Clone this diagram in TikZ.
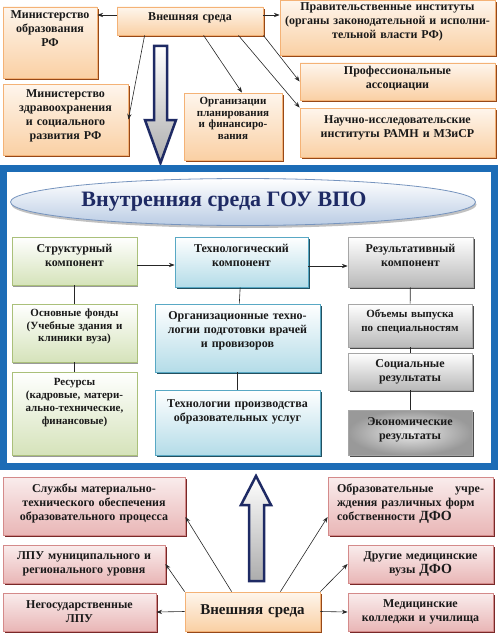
\documentclass[tikz,border=0pt]{standalone}
\usepackage{fontspec}
\setmainfont{Liberation Serif}
\usetikzlibrary{shapes.geometric, arrows.meta, shadows}
\definecolor{frameblue}{RGB}{28,108,182}
\definecolor{peach}{RGB}{250,208,164}
\definecolor{peachline}{RGB}{244,178,118}
\definecolor{brownshade}{RGB}{150,72,24}
\definecolor{rose}{RGB}{233,182,182}
\definecolor{roseline}{RGB}{212,138,138}
\definecolor{redshade}{RGB}{120,40,40}
\definecolor{leaf}{RGB}{213,227,186}
\definecolor{leafline}{RGB}{170,192,122}
\definecolor{aqua}{RGB}{180,220,232}
\definecolor{aqualine}{RGB}{88,168,196}
\definecolor{tealshade}{RGB}{35,80,95}
\definecolor{ellblue}{RGB}{186,204,228}
\definecolor{ellline}{RGB}{118,148,190}
\definecolor{navy}{RGB}{30,42,100}
\tikzset{
  base/.style={
    rectangle, align=center, inner sep=1pt, text=black!90,
    font=\bfseries\fontsize{12}{14}\selectfont
  },
  outer/.style={
    base, draw=peachline, line width=0.8pt, top color=peach!20, bottom color=peach,
    drop shadow={shadow xshift=1.5pt,shadow yshift=-2pt,fill=brownshade,opacity=1}
  },
  partner/.style={
    base, draw=roseline, line width=0.8pt, top color=rose!25, bottom color=rose,
    drop shadow={shadow xshift=1.5pt,shadow yshift=-2pt,fill=redshade,opacity=1}
  },
  structbox/.style={
    base, draw=leafline, line width=0.8pt, top color=white, bottom color=leaf,
    drop shadow={shadow xshift=1pt,shadow yshift=-1.5pt,fill=gray!80,opacity=1}
  },
  techbox/.style={
    base, draw=aqualine, line width=0.8pt, top color=white, bottom color=aqua,
    drop shadow={shadow xshift=1.5pt,shadow yshift=-2pt,fill=tealshade,opacity=1}
  },
  resbox/.style={
    base, draw=gray!70, line width=0.8pt, top color=white, bottom color=gray!55,
    drop shadow={shadow xshift=1.5pt,shadow yshift=-2pt,fill=black!70,opacity=1}
  },
  titleell/.style={
    ellipse, minimum width=465pt, minimum height=47pt, inner sep=0pt,
    top color=white, bottom color=ellblue, draw=ellline, line width=0.8pt,
    text=navy, font=\bfseries\fontsize{22}{24}\selectfont,
    drop shadow={shadow xshift=1pt,shadow yshift=-2.5pt,fill=gray!60,opacity=0.8}
  },
  bigarrow/.style={
    draw=navy, line width=2.5pt, line join=miter, top color=white, bottom color=gray!65
  },
  arrow/.style={->, >=Stealth, line width=0.6pt, black!85},
  link/.style={line width=0.6pt, black!85}
}

\begin{document}
\begin{tikzpicture}[x=1pt, y=-1pt]
\useasboundingbox (0,0) rectangle (498,642);

% top: outer environment
\node[outer, minimum width=146pt, minimum height=28pt, text width=140pt, text depth=9pt] (extTop) at (190,21) {Внешняя среда};
\node[outer, minimum width=94pt, minimum height=71pt, text width=88pt, text depth=55pt] (minObr) at (50,42.5) {Министерство\\образования\\РФ};
\node[outer, minimum width=125pt, minimum height=71pt, text width=118pt, text depth=51pt] (minZdrav) at (65.5,119.5) {Министерство\\здравоохранения\\и социального\\развития РФ};
\node[outer, minimum width=98pt, minimum height=67pt, text width=92pt, text depth=51pt, font=\bfseries\fontsize{11}{11.5}\selectfont] (orgPlan) at (233,126.5) {Организации\\планирования\\и финансиро-\\вания};
\node[outer, minimum width=215pt, minimum height=55pt, text width=208pt, text depth=41pt] (pravInst) at (387.5,27.5) {Правительственные институты\\(органы законодательной и исполни-\\тельной власти РФ)};
\node[outer, minimum width=195pt, minimum height=37pt, text width=188pt, text depth=23pt] (profAssoc) at (397.5,81.5) {Профессиональные\\ассоциации};
\node[outer, minimum width=195pt, minimum height=49pt, text width=188pt, text depth=25pt] (nauchInst) at (397.5,132.5) {Научно-исследовательские\\институты РАМН и МЗиСР};

\draw[arrow] ([yshift=6pt]extTop.west) -- ([yshift=6pt]extTop.west -| minObr.east);
\draw[arrow] ([yshift=6pt]extTop.east) -- ([yshift=6pt]extTop.east -| pravInst.west);
\draw[arrow] ([xshift=28pt]extTop.south west) -- (minZdrav.east);
\draw[arrow] ([xshift=87pt]extTop.south west) -- ([xshift=9pt]orgPlan.north);
\draw[arrow] (extTop.south east) -- (profAssoc.west);
\draw[arrow] ([xshift=-25pt]extTop.south east) -- (nauchInst.north west);

\path[bigarrow] (154,46) -- (167,46) -- (167,120) -- (176,120) -- (160.5,163) -- (145,120) -- (154,120) -- cycle;

% inner environment
\draw[line width=7pt, frameblue] (3.5,168.5) rectangle (494,466.5);
\node[titleell] (title) at (243,202) {Внутренняя среда ГОУ ВПО\hspace*{38pt}};

\node[structbox, minimum width=125pt, minimum height=48pt, text width=119pt, text depth=25pt] (strComp) at (74.5,261) {Структурный\\компонент};
\node[techbox, minimum width=133pt, minimum height=50pt, text width=127pt, text depth=27pt] (techComp) at (241.5,262) {Технологический\\компонент};
\node[resbox, minimum width=125pt, minimum height=50pt, text width=119pt, text depth=27pt] (resComp) at (410.5,262) {Результативный\\компонент};

\node[structbox, minimum width=125pt, minimum height=58pt, text width=119pt, text depth=40pt, font=\bfseries\fontsize{11}{12.5}\selectfont] (fonds) at (74.5,333) {Основные фонды\\(Учебные здания и\\клиники вуза)};
\node[structbox, minimum width=125pt, minimum height=83pt, text width=119pt, text depth=64pt, font=\bfseries\fontsize{11}{13}\selectfont] (resources) at (74.5,413.5) {Ресурсы\\(кадровые, матери-\\ально-технические,\\финансовые)};

\node[techbox, minimum width=165pt, minimum height=68pt, text width=159pt, text depth=44pt] (orgTech) at (237.5,338) {Организационные техно-\\логии подготовки врачей\\и провизоров};
\node[techbox, minimum width=165pt, minimum height=65pt, text width=159pt, text depth=37pt] (prodTech) at (237.5,422.5) {Технологии производства\\образовательных услуг};

\node[resbox, minimum width=124pt, minimum height=43pt, text width=118pt, text depth=23pt, font=\bfseries\fontsize{11}{14}\selectfont] (volume) at (410,325.5) {Объемы выпуска\\по специальностям};
\node[resbox, minimum width=124pt, minimum height=37pt, text width=118pt] (social) at (410,371.5) {Социальные\\результаты};
\node[resbox, minimum width=124pt, minimum height=45pt, text width=118pt, text depth=21pt, inner color=gray!15, outer color=gray!80] (econ) at (410,432.5) {Экономические\\результаты};

\draw[arrow] ([yshift=-4pt]strComp.east) -- ([yshift=-4pt]strComp.east -| techComp.west);
\draw[arrow] ([yshift=-4pt]techComp.east) -- ([yshift=-4pt]techComp.east -| resComp.west);
\draw[link] (strComp) -- (fonds);
\draw[link] (fonds) -- (resources);
\draw[link] (techComp) -- (orgTech);
\draw[link] (orgTech) -- (prodTech);
\draw[link] (resComp) -- (volume);
\draw[link] (volume) -- (social);
\draw[link] (social) -- (econ);

% bottom: outer environment
\path[bigarrow] (249,581) -- (264,581) -- (264,505) -- (271,505) -- (256,476) -- (241,505) -- (249,505) -- cycle;

\node[partner, minimum width=182pt, minimum height=58pt, text width=176pt, text depth=35pt] (services) at (94,506) {Службы материально-\\технического обеспечения\\образовательного процесса};
\node[partner, minimum width=162pt, minimum height=38pt, text width=156pt] (lpuMun) at (84,564) {ЛПУ муниципального и\\регионального уровня};
\node[partner, minimum width=153pt, minimum height=38pt, text width=147pt] (nonState) at (79.5,612) {Негосударственные\\ЛПУ};
\node[outer, minimum width=135pt, minimum height=39pt, text width=129pt, font=\bfseries\fontsize{15}{17}\selectfont] (extBot) at (252.5,611.5) {Внешняя среда};
\node[partner, minimum width=165pt, minimum height=58pt, text width=147pt, align=left, text depth=35pt] (eduInst) at (410.5,506) {Образовательные\hskip 0pt plus 1filll учре-\\ждения различных форм\\собственности {\fontsize{14}{14}\selectfont ДФО}};
\node[partner, minimum width=145pt, minimum height=38pt, text width=139pt] (otherUni) at (420.5,564) {Другие медицинские\\вузы {\fontsize{14}{14}\selectfont ДФО}};
\node[partner, minimum width=145pt, minimum height=38pt, text width=139pt] (colleges) at (420.5,612) {Медицинские\\колледжи и училища};

\draw[arrow] (extBot.west) -- (nonState.east);
\draw[arrow] (extBot.north west) -- (lpuMun.east);
\draw[arrow] ([xshift=47pt]extBot.north west) -- ([yshift=-11pt]services.east);
\draw[arrow] ([xshift=-40pt]extBot.north east) -- ([yshift=-11pt]eduInst.west);
\draw[arrow] (extBot.north east) -- (otherUni.west);
\draw[arrow] (extBot.east) -- (colleges.west);
\end{tikzpicture}
\end{document}
